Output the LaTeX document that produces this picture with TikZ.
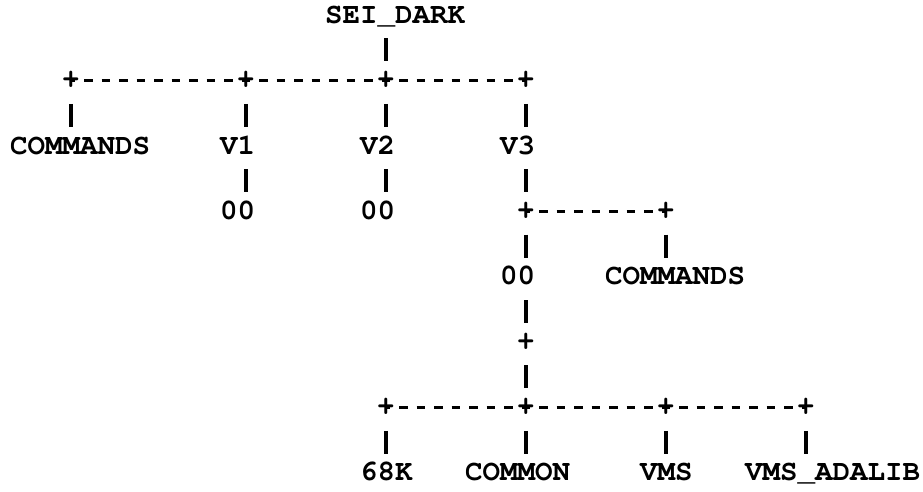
\documentclass[tikz,border=0pt]{standalone}
\usepackage[T1,TU]{fontenc}
\usepackage{tikz}
\newcommand{\dirfont}{\fontencoding{T1}\fontfamily{pcr}\fontseries{b}\fontsize{16.6}{20}\selectfont}

\begin{document}
\begin{tikzpicture}
  [x=0.35cm,y=-0.654cm,
   every node/.style={inner sep=0pt,font=\dirfont},
   dirname/.style={anchor=west,text height=9.35pt,text depth=0pt},
   junction/.style={anchor=center},
   vbar/.style={line width=1.9pt,shorten <=0.47cm,shorten >=0.38cm},
   hdash/.style={line width=1.9pt,dash pattern=on 0.175cm off 0.175cm,dash phase=0.0875cm}]
  \useasboundingbox (0.443,-0.459) rectangle (53.19,14.587);

  % root
  \node[dirname] (top) at (19,0) {SEI\_DARK};
  \node[junction] (jA) at (4.5,2) {+};
  \node[junction] (jB) at (14.5,2) {+};
  \node[junction] (jC) at (22.5,2) {+};
  \node[junction] (jD) at (30.5,2) {+};

  \node[dirname] (cmdA) at (1,4) {COMMANDS};
  \node[dirname] (v1) at (13,4) {V1};
  \node[dirname] (v2) at (21,4) {V2};
  \node[dirname] (v3) at (29,4) {V3};

  \node[dirname] (zA) at (13,6) {00};
  \node[dirname] (zB) at (21,6) {00};
  \node[junction] (jE) at (30.5,6) {+};
  \node[junction] (jF) at (38.5,6) {+};

  % V3 subtree
  \node[dirname] (zC) at (29,8) {00};
  \node[dirname] (cmdB) at (35,8) {COMMANDS};
  \node[junction] (jG) at (30.5,10) {+};

  \node[junction] (jH) at (22.5,12) {+};
  \node[junction] (jI) at (30.5,12) {+};
  \node[junction] (jJ) at (38.5,12) {+};
  \node[junction] (jK) at (46.5,12) {+};

  \node[dirname] (k68) at (21,14) {68K};
  \node[dirname] (common) at (27,14) {COMMON};
  \node[dirname] (vms) at (37,14) {VMS};
  \node[dirname] (adalib) at (43,14) {VMS\_ADALIB};

  \draw[hdash] (jA.center) -- (jD.center);
  \draw[hdash] (jE.center) -- (jF.center);
  \draw[hdash] (jH.center) -- (jK.center);

  \foreach \col/\from/\to in {jC/top/jC,jA/jA/cmdA,jB/jB/v1,jC/jC/v2,jD/jD/v3,
      jB/v1/zA,jC/v2/zB,jD/v3/jE,jE/jE/zC,jF/jF/cmdB,jE/zC/jG,jG/jG/jI,
      jH/jH/k68,jI/jI/common,jJ/jJ/vms,jK/jK/adalib}
    \draw[vbar] (\col |- \from) -- (\col |- \to);

\end{tikzpicture}
\end{document}
